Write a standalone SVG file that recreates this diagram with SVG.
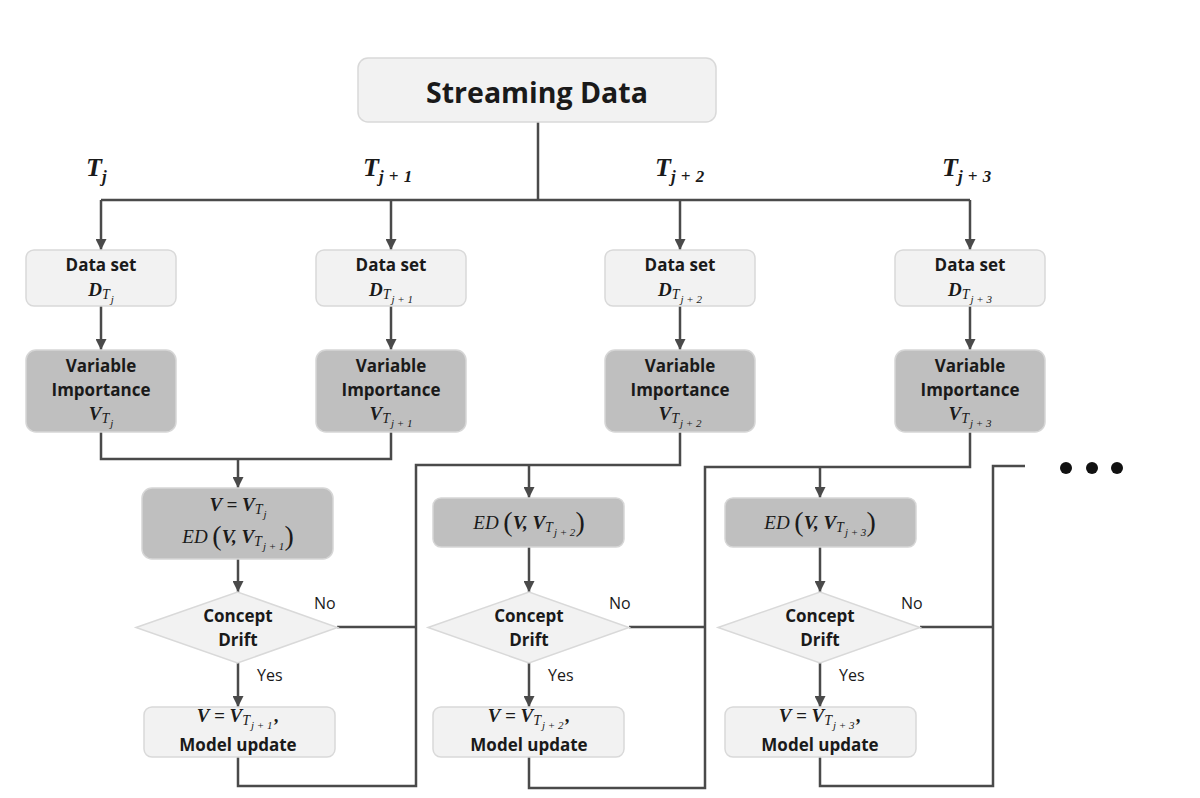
<svg xmlns="http://www.w3.org/2000/svg" width="1200" height="798" viewBox="0 0 1200 798">
<defs>
<marker id="ah" viewBox="0 0 10 10" refX="10" refY="5" markerWidth="11" markerHeight="11" markerUnits="userSpaceOnUse" orient="auto">
<path d="M0,0 L10,5 L0,10 z" fill="#4a4a4a"/>
</marker>
<style>
.ln{fill:none;stroke:#4a4a4a;stroke-width:2.5}
.ar{fill:none;stroke:#4a4a4a;stroke-width:2.5;marker-end:url(#ah)}
.lt{fill:#f2f2f2;stroke:#d9d9d9;stroke-width:1.5}
.dk{fill:#bfbfbf;stroke:#d6d6d6;stroke-width:1.5}
.b{font-family:"Open Sans","Liberation Sans",sans-serif;font-weight:bold;font-size:17px;fill:#1a1a1a;text-anchor:middle}
.r{font-family:"Open Sans","Liberation Sans",sans-serif;font-size:16px;fill:#1a1a1a}
.m{font-family:"Liberation Serif","DejaVu Serif",serif;font-size:19px;fill:#1a1a1a;text-anchor:middle}
.bi{font-weight:bold;font-style:italic}
.s1{font-style:italic;font-weight:normal;font-size:14px;letter-spacing:1px}
.s2{font-style:italic;font-weight:normal;font-size:11px}
.it{font-style:italic;font-weight:normal}
.par{font-size:28px;font-weight:normal}
.tl{font-family:"Liberation Serif","DejaVu Serif",serif;font-weight:bold;font-style:italic;font-size:26px;fill:#1a1a1a}
.ts{font-size:17px;letter-spacing:0.5px}
</style>
</defs>

<g id="connectors">
<path class="ln" d="M538,122 V200"/>
<path class="ln" d="M101,200 H970"/>
<path class="ar" d="M101,200 V250"/>
<path class="ar" d="M391,200 V250"/>
<path class="ar" d="M680,200 V250"/>
<path class="ar" d="M970,200 V250"/>
<path class="ar" d="M101,306 V350"/>
<path class="ar" d="M391,306 V350"/>
<path class="ar" d="M680,306 V350"/>
<path class="ar" d="M970,306 V350"/>
<path class="ln" d="M101,432 V459 H391 V432"/>
<path class="ar" d="M238,459 V488"/>
<path class="ar" d="M238,559 V592"/>
<path class="ar" d="M238,663 V707"/>
<path class="ln" d="M337,627 H416"/>
<path class="ln" d="M238,757 V786 H416 V465 H680 V432"/>
<path class="ar" d="M529,465 V498"/>
<path class="ar" d="M529,547 V592"/>
<path class="ar" d="M529,663 V707"/>
<path class="ln" d="M629,627 H705"/>
<path class="ln" d="M529,757 V788 H705 V467 H970 V432"/>
<path class="ar" d="M820,467 V498"/>
<path class="ar" d="M820,547 V592"/>
<path class="ar" d="M820,663 V707"/>
<path class="ln" d="M920,627 H993"/>
<path class="ln" d="M820,757 V786 H993 V466 H1025"/>
</g>

<g id="streaming">
<rect class="lt" x="358" y="58" width="358" height="64" rx="10"/>
<text x="537" y="103" style="font-family:'Open Sans','Liberation Sans',sans-serif;font-weight:bold;font-size:28.5px;fill:#1a1a1a;text-anchor:middle">Streaming Data</text>
</g>

<g id="tlabels">
<text class="tl" x="86" y="176">T<tspan class="ts" dy="6">j</tspan></text>
<text class="tl" x="363" y="176">T<tspan class="ts" dy="6">j + 1</tspan></text>
<text class="tl" x="655" y="176">T<tspan class="ts" dy="6">j + 2</tspan></text>
<text class="tl" x="942" y="176">T<tspan class="ts" dy="6">j + 3</tspan></text>
</g>

<g id="ds1">
<rect class="lt" x="26" y="250" width="150" height="56" rx="8"/>
<text class="b" x="101" y="271">Data set</text>
<text class="m" x="101" y="296"><tspan class="bi">D</tspan><tspan class="s1" dy="3">T</tspan><tspan class="s2" dy="4">j</tspan></text>
</g>
<g id="ds2">
<rect class="lt" x="316" y="250" width="150" height="56" rx="8"/>
<text class="b" x="391" y="271">Data set</text>
<text class="m" x="391" y="296"><tspan class="bi">D</tspan><tspan class="s1" dy="3">T</tspan><tspan class="s2" dy="4">j + 1</tspan></text>
</g>
<g id="ds3">
<rect class="lt" x="605" y="250" width="150" height="56" rx="8"/>
<text class="b" x="680" y="271">Data set</text>
<text class="m" x="680" y="296"><tspan class="bi">D</tspan><tspan class="s1" dy="3">T</tspan><tspan class="s2" dy="4">j + 2</tspan></text>
</g>
<g id="ds4">
<rect class="lt" x="895" y="250" width="150" height="56" rx="8"/>
<text class="b" x="970" y="271">Data set</text>
<text class="m" x="970" y="296"><tspan class="bi">D</tspan><tspan class="s1" dy="3">T</tspan><tspan class="s2" dy="4">j + 3</tspan></text>
</g>

<g id="vi1">
<rect class="dk" x="26" y="350" width="150" height="82" rx="10"/>
<text class="b" x="101" y="372">Variable</text>
<text class="b" x="101" y="396">Importance</text>
<text class="m" x="101" y="420"><tspan class="bi">V</tspan><tspan class="s1" dy="3">T</tspan><tspan class="s2" dy="4">j</tspan></text>
</g>
<g id="vi2">
<rect class="dk" x="316" y="350" width="150" height="82" rx="10"/>
<text class="b" x="391" y="372">Variable</text>
<text class="b" x="391" y="396">Importance</text>
<text class="m" x="391" y="420"><tspan class="bi">V</tspan><tspan class="s1" dy="3">T</tspan><tspan class="s2" dy="4">j + 1</tspan></text>
</g>
<g id="vi3">
<rect class="dk" x="605" y="350" width="150" height="82" rx="10"/>
<text class="b" x="680" y="372">Variable</text>
<text class="b" x="680" y="396">Importance</text>
<text class="m" x="680" y="420"><tspan class="bi">V</tspan><tspan class="s1" dy="3">T</tspan><tspan class="s2" dy="4">j + 2</tspan></text>
</g>
<g id="vi4">
<rect class="dk" x="895" y="350" width="150" height="82" rx="10"/>
<text class="b" x="970" y="372">Variable</text>
<text class="b" x="970" y="396">Importance</text>
<text class="m" x="970" y="420"><tspan class="bi">V</tspan><tspan class="s1" dy="3">T</tspan><tspan class="s2" dy="4">j + 3</tspan></text>
</g>

<g id="ed1">
<rect class="dk" x="142" y="488" width="191" height="71" rx="10"/>
<text class="m" x="238" y="511"><tspan class="bi">V = V</tspan><tspan class="s1" dy="3">T</tspan><tspan class="s2" dy="4">j</tspan></text>
<text class="m" x="238" y="543"><tspan class="it">ED </tspan><tspan class="par" dy="2">(</tspan><tspan class="bi" dy="-2">V, V</tspan><tspan class="s1" dy="3">T</tspan><tspan class="s2" dy="4">j + 1</tspan><tspan class="par" dy="-5">)</tspan></text>
</g>
<g id="ed2">
<rect class="dk" x="433" y="498" width="191" height="49" rx="8"/>
<text class="m" x="529" y="529"><tspan class="it">ED </tspan><tspan class="par" dy="2">(</tspan><tspan class="bi" dy="-2">V, V</tspan><tspan class="s1" dy="3">T</tspan><tspan class="s2" dy="4">j + 2</tspan><tspan class="par" dy="-5">)</tspan></text>
</g>
<g id="ed3">
<rect class="dk" x="725" y="498" width="191" height="49" rx="8"/>
<text class="m" x="820" y="529"><tspan class="it">ED </tspan><tspan class="par" dy="2">(</tspan><tspan class="bi" dy="-2">V, V</tspan><tspan class="s1" dy="3">T</tspan><tspan class="s2" dy="4">j + 3</tspan><tspan class="par" dy="-5">)</tspan></text>
</g>

<g id="cd1">
<polygon class="lt" points="136,627.5 237.5,592 337.5,627.5 237.5,663"/>
<text class="b" x="238" y="622">Concept</text>
<text class="b" x="238" y="646">Drift</text>
<text class="r" x="314" y="609">No</text>
<text class="r" x="257" y="681">Yes</text>
</g>
<g id="cd2">
<polygon class="lt" points="428,627.5 529,592 629,627.5 529,663"/>
<text class="b" x="529" y="622">Concept</text>
<text class="b" x="529" y="646">Drift</text>
<text class="r" x="609" y="609">No</text>
<text class="r" x="548" y="681">Yes</text>
</g>
<g id="cd3">
<polygon class="lt" points="718,627.5 820,592 920,627.5 820,663"/>
<text class="b" x="820" y="622">Concept</text>
<text class="b" x="820" y="646">Drift</text>
<text class="r" x="901" y="609">No</text>
<text class="r" x="839" y="681">Yes</text>
</g>

<g id="mu1">
<rect class="lt" x="144" y="707" width="191" height="50" rx="8"/>
<text class="m" x="238" y="722"><tspan class="bi">V = V</tspan><tspan class="s1" dy="3">T</tspan><tspan class="s2" dy="4">j + 1</tspan><tspan class="bi" dx="2" dy="-7">,</tspan></text>
<text class="b" x="238" y="751">Model update</text>
</g>
<g id="mu2">
<rect class="lt" x="433" y="707" width="191" height="50" rx="8"/>
<text class="m" x="529" y="722"><tspan class="bi">V = V</tspan><tspan class="s1" dy="3">T</tspan><tspan class="s2" dy="4">j + 2</tspan><tspan class="bi" dx="2" dy="-7">,</tspan></text>
<text class="b" x="529" y="751">Model update</text>
</g>
<g id="mu3">
<rect class="lt" x="725" y="707" width="191" height="50" rx="8"/>
<text class="m" x="820" y="722"><tspan class="bi">V = V</tspan><tspan class="s1" dy="3">T</tspan><tspan class="s2" dy="4">j + 3</tspan><tspan class="bi" dx="2" dy="-7">,</tspan></text>
<text class="b" x="820" y="751">Model update</text>
</g>

<g id="ellipsis" fill="#111">
<circle cx="1066" cy="468" r="6"/>
<circle cx="1092" cy="468" r="6"/>
<circle cx="1117" cy="468" r="6"/>
</g>
</svg>
